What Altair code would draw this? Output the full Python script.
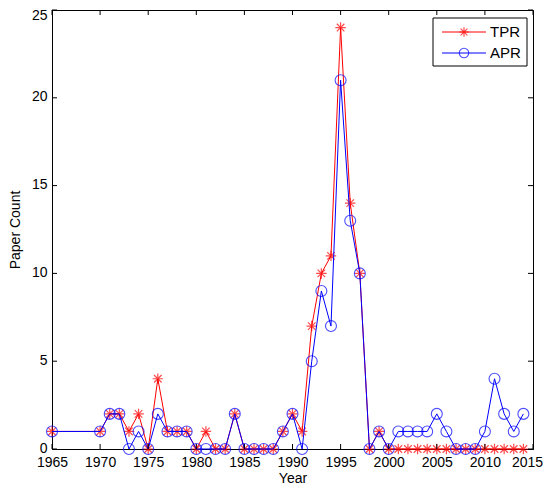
import altair as alt
import pandas as pd

years_tpr = [1965, 1970, 1971, 1972, 1973, 1974, 1975, 1976, 1977, 1978, 1979, 1980,
             1981, 1982, 1983, 1984, 1985, 1986, 1987, 1988, 1989, 1990, 1991, 1992,
             1993, 1994, 1995, 1996, 1997, 1998, 1999, 2000, 2001, 2002, 2003, 2004,
             2005, 2006, 2007, 2008, 2009, 2010, 2011, 2012, 2013, 2014]
tpr = [1, 1, 2, 2, 1, 2, 0, 4, 1, 1, 1, 0,
       1, 0, 0, 2, 0, 0, 0, 0, 1, 2, 1, 7,
       10, 11, 24, 14, 10, 0, 1, 0, 0, 0, 0, 0,
       0, 0, 0, 0, 0, 0, 0, 0, 0, 0]
years_apr = years_tpr
apr = [1, 1, 2, 2, 0, 1, 0, 2, 1, 1, 1, 0,
       0, 0, 0, 2, 0, 0, 0, 0, 1, 2, 0, 5,
       9, 7, 21, 13, 10, 0, 1, 0, 1, 1, 1, 1,
       2, 1, 0, 0, 0, 1, 4, 2, 1, 2]
x_ticks = [1965, 1970, 1975, 1980, 1985, 1990, 1995, 2000, 2005, 2010, 2015]
y_ticks = [0, 5, 10, 15, 20, 25]
legend_labels = ["TPR", "APR"]

W, H = 481, 439
FONT = "Liberation Sans"
RED = "#ff0000"
BLUE = "#0000ff"
STAR = "M-1,0L1,0M0,-1L0,1M-0.72,-0.72L0.72,0.72M-0.72,0.72L0.72,-0.72"

df_t = pd.DataFrame({"Year": years_tpr, "Count": tpr})
df_a = pd.DataFrame({"Year": years_apr, "Count": apr})

xs = alt.Scale(domain=[1965, 2015], nice=False, zero=False)
ys = alt.Scale(domain=[0, 25], nice=False)

x_enc = alt.X("Year:Q", scale=xs, axis=alt.Axis(
    title="Year", values=x_ticks, format="d", ticks=False, grid=False,
    labelFont=FONT, labelFontSize=14, labelColor="black", labelPadding=6,
    labelOffset=alt.condition("datum.value == 2015", alt.value(-6), alt.value(0)),
    titleFont=FONT, titleFontSize=14, titleFontWeight="normal", titleColor="black",
    titlePadding=2, domainColor="black", labelFlush=False))
y_enc = alt.Y("Count:Q", scale=ys, axis=alt.Axis(
    title="Paper Count", values=y_ticks, ticks=False, grid=False,
    labelFont=FONT, labelFontSize=14, labelColor="black", labelPadding=5,
    labelOffset=alt.condition("datum.value == 25", alt.value(5), alt.value(-1)),
    titleFont=FONT, titleFontSize=14, titleFontWeight="normal", titleColor="black",
    titlePadding=9, domainColor="black", labelFlush=False))
xp = alt.X("Year:Q", scale=xs)
yp = alt.Y("Count:Q", scale=ys)

tline = alt.Chart(df_t).mark_line(color=RED, strokeWidth=1).encode(x=x_enc, y=y_enc)
tpts = alt.Chart(df_t).mark_point(shape=STAR, color=RED, size=110, strokeWidth=1.2, filled=False).encode(x=xp, y=yp)
aline = alt.Chart(df_a).mark_line(color=BLUE, strokeWidth=1).encode(x=xp, y=yp)
apts = alt.Chart(df_a).mark_point(shape="circle", color=BLUE, size=120, strokeWidth=1.1, filled=False).encode(x=xp, y=yp)

dxt = pd.DataFrame({"Year": x_ticks})
dyt = pd.DataFrame({"Count": y_ticks})
xb = alt.Chart(dxt).mark_rule(color="black", strokeWidth=1).encode(
    x=xp, y=alt.value(H), y2=alt.value(H - 5))
xt = alt.Chart(dxt).mark_rule(color="black", strokeWidth=1).encode(
    x=xp, y=alt.value(0), y2=alt.value(5))
yl = alt.Chart(dyt).mark_rule(color="black", strokeWidth=1).encode(
    y=yp, x=alt.value(0), x2=alt.value(5))
yr = alt.Chart(dyt).mark_rule(color="black", strokeWidth=1).encode(
    y=yp, x=alt.value(W), x2=alt.value(W - 5))

# legend
dl = pd.DataFrame({"label": legend_labels})
lbox = alt.Chart(dl.head(1)).mark_rect(fill="white", stroke="black", strokeWidth=1).encode(
    x=alt.value(381), x2=alt.value(475), y=alt.value(8), y2=alt.value(56))
l1 = alt.Chart(dl.head(1)).mark_rule(color=RED, strokeWidth=1).encode(
    x=alt.value(390), x2=alt.value(434), y=alt.value(22))
l1p = alt.Chart(dl.head(1)).mark_point(shape=STAR, color=RED, size=90, strokeWidth=1.2).encode(
    x=alt.value(412), y=alt.value(22))
l1t = alt.Chart(dl.head(1)).mark_text(align="left", baseline="middle", font=FONT, fontSize=15, color="black").encode(
    x=alt.value(438), y=alt.value(22), text="label:N")
l2 = alt.Chart(dl.tail(1)).mark_rule(color=BLUE, strokeWidth=1).encode(
    x=alt.value(390), x2=alt.value(434), y=alt.value(43))
l2p = alt.Chart(dl.tail(1)).mark_point(shape="circle", color=BLUE, size=90, strokeWidth=1.1).encode(
    x=alt.value(412), y=alt.value(43))
l2t = alt.Chart(dl.tail(1)).mark_text(align="left", baseline="middle", font=FONT, fontSize=15, color="black").encode(
    x=alt.value(438), y=alt.value(43), text="label:N")

chart = alt.layer(tline, tpts, aline, apts, xb, xt, yl, yr,
                  lbox, l1, l1p, l1t, l2, l2p, l2t).properties(
    width=W, height=H,
    autosize=alt.AutoSizeParams(type="none"),
    padding={"left": 44, "top": 2, "right": 10, "bottom": 37},
    background="white",
).configure_view(stroke="black", strokeWidth=1)

chart.save("out.html", embed_options={"renderer": "svg", "actions": False})
